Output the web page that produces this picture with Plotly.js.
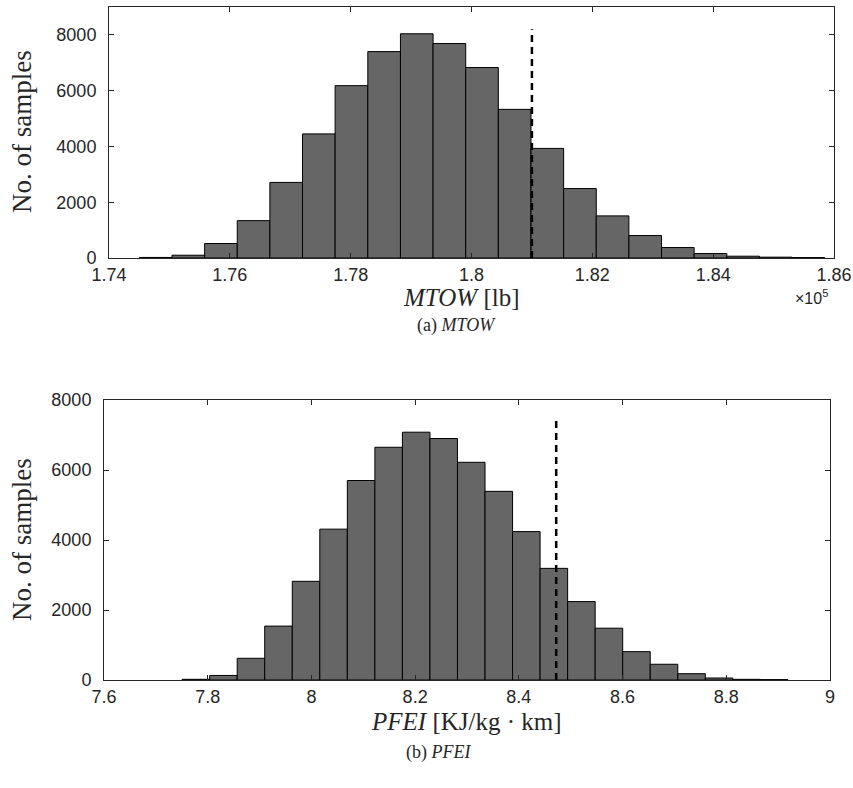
<!DOCTYPE html>
<html>
<head>
<meta charset="utf-8">
<script src="https://cdn.plot.ly/plotly-3.0.1.min.js"></script>
<style>html,body{margin:0;padding:0;background:#fff;}#chart{width:853px;height:788px;}</style>
</head>
<body>
<div id="chart"></div>
<script>
// ---- Data (a) MTOW histogram, bin centres in lb ----
var mtowCenters = [174772, 175312, 175853, 176393, 176933, 177473, 178013, 178554, 179094, 179634,
                   180174, 180714, 181255, 181795, 182335, 182875, 183415, 183956, 184496, 185036, 185576];
var mtowCounts  = [20, 100, 520, 1340, 2710, 4450, 6180, 7400, 8040, 7690,
                   6830, 5330, 3930, 2490, 1510, 805, 375, 160, 65, 30, 15];
var mtowBinWidth = 540.2;
var mtowRef = 181000;
var mtowRefTop = 8200;
var mtowTickVals = [174000, 176000, 178000, 180000, 182000, 184000, 186000];
var mtowTickText = ['1.74', '1.76', '1.78', '1.8', '1.82', '1.84', '1.86'];

// ---- Data (b) PFEI histogram ----
var pfeiCenters = [7.7772, 7.8303, 7.8834, 7.9365, 7.9896, 8.0427, 8.0958, 8.1489, 8.2020, 8.2551, 8.3082,
                   8.3613, 8.4144, 8.4675, 8.5206, 8.5737, 8.6268, 8.6799, 8.7330, 8.7861, 8.8392, 8.8922];
var pfeiCounts  = [20, 130, 620, 1540, 2820, 4310, 5700, 6650, 7080, 6900, 6220,
                   5390, 4240, 3190, 2240, 1480, 810, 450, 180, 57, 19, 10];
var pfeiBinWidth = 0.05309;
var pfeiRef = 8.472;
var pfeiRefTop = 7400;
var pfeiTickVals = [7.6, 7.8, 8.0, 8.2, 8.4, 8.6, 8.8, 9.0];
var pfeiTickText = ['7.6', '7.8', '8', '8.2', '8.4', '8.6', '8.8', '9'];
var yTickVals = [0, 2000, 4000, 6000, 8000];

var W = 853, H = 788;
function px(x) { return x / W; }
function py(y) { return 1 - y / H; }

var barStyle = {color: '#666666', line: {color: '#000000', width: 1}};
var traces = [
  {type: 'bar', x: mtowCenters, y: mtowCounts, width: mtowBinWidth, marker: barStyle,
   xaxis: 'x', yaxis: 'y', hoverinfo: 'skip', showlegend: false},
  {type: 'scatter', mode: 'lines', x: [mtowRef, mtowRef], y: [0, mtowRefTop],
   line: {color: '#000', width: 2.5, dash: '7px,5px'}, xaxis: 'x', yaxis: 'y', hoverinfo: 'skip', showlegend: false},
  {type: 'bar', x: pfeiCenters, y: pfeiCounts, width: pfeiBinWidth, marker: barStyle,
   xaxis: 'x2', yaxis: 'y2', hoverinfo: 'skip', showlegend: false},
  {type: 'scatter', mode: 'lines', x: [pfeiRef, pfeiRef], y: [0, pfeiRefTop],
   line: {color: '#000', width: 2.5, dash: '7px,5px'}, xaxis: 'x2', yaxis: 'y2', hoverinfo: 'skip', showlegend: false}
];

var sans = 'Liberation Sans, Arial, sans-serif';
var tickFont = {family: sans, size: 18, color: '#262626'};
var serif = 'Liberation Serif, Times New Roman, serif';
function axisBase() {
  return {showline: true, linecolor: '#262626', linewidth: 1, mirror: 'ticks', ticks: 'inside',
          ticklen: 5, tickcolor: '#262626', showgrid: false, zeroline: false, tickfont: tickFont,
          fixedrange: true};
}
var xa = Object.assign(axisBase(), {domain: [px(109), px(834)], range: [174000, 186000],
  tickmode: 'array', tickvals: mtowTickVals, ticktext: mtowTickText, anchor: 'y', ticklabelstandoff: 0});
var ya = Object.assign(axisBase(), {domain: [py(258), py(7)], range: [0, 9000],
  tickmode: 'array', tickvals: yTickVals, anchor: 'x', ticklabelstandoff: 8});
var xa2 = Object.assign(axisBase(), {domain: [px(104), px(830)], range: [7.6, 9.0],
  tickmode: 'array', tickvals: pfeiTickVals, ticktext: pfeiTickText, anchor: 'y2', ticklabelstandoff: 0});
var ya2 = Object.assign(axisBase(), {domain: [py(680), py(400)], range: [0, 8000],
  tickmode: 'array', tickvals: yTickVals, anchor: 'x2', ticklabelstandoff: 8});

function ann(text, x, y, size, family, angle) {
  return {text: text, xref: 'paper', yref: 'paper', x: px(x), y: py(y), xanchor: 'center', yanchor: 'middle',
          showarrow: false, textangle: angle || 0, borderpad: 0,
          font: {family: family, size: size, color: '#262626'}};
}
var annotations = [
  ann('No. of samples', 22, 132, 27, serif, -90),
  ann('<i>MTOW</i> [lb]', 461, 297, 25, serif),
  ann('×10<sup>5</sup>', 811, 297, 16, sans),
  ann('(a) <i>MTOW</i>', 456, 325, 18, serif),
  ann('No. of samples', 22, 540, 27, serif, -90),
  ann('<i>PFEI</i> [KJ/kg · km]', 466, 721, 25, serif),
  ann('(b) <i>PFEI</i>', 438, 752, 18, serif)
];

var layout = {
  width: W, height: H, margin: {l: 0, r: 0, t: 0, b: 0}, paper_bgcolor: '#fff', plot_bgcolor: '#fff',
  bargap: 0, showlegend: false,
  xaxis: xa, yaxis: ya, xaxis2: xa2, yaxis2: ya2, annotations: annotations
};
Plotly.newPlot('chart', traces, layout, {displayModeBar: false, staticPlot: true});
</script>
</body>
</html>
